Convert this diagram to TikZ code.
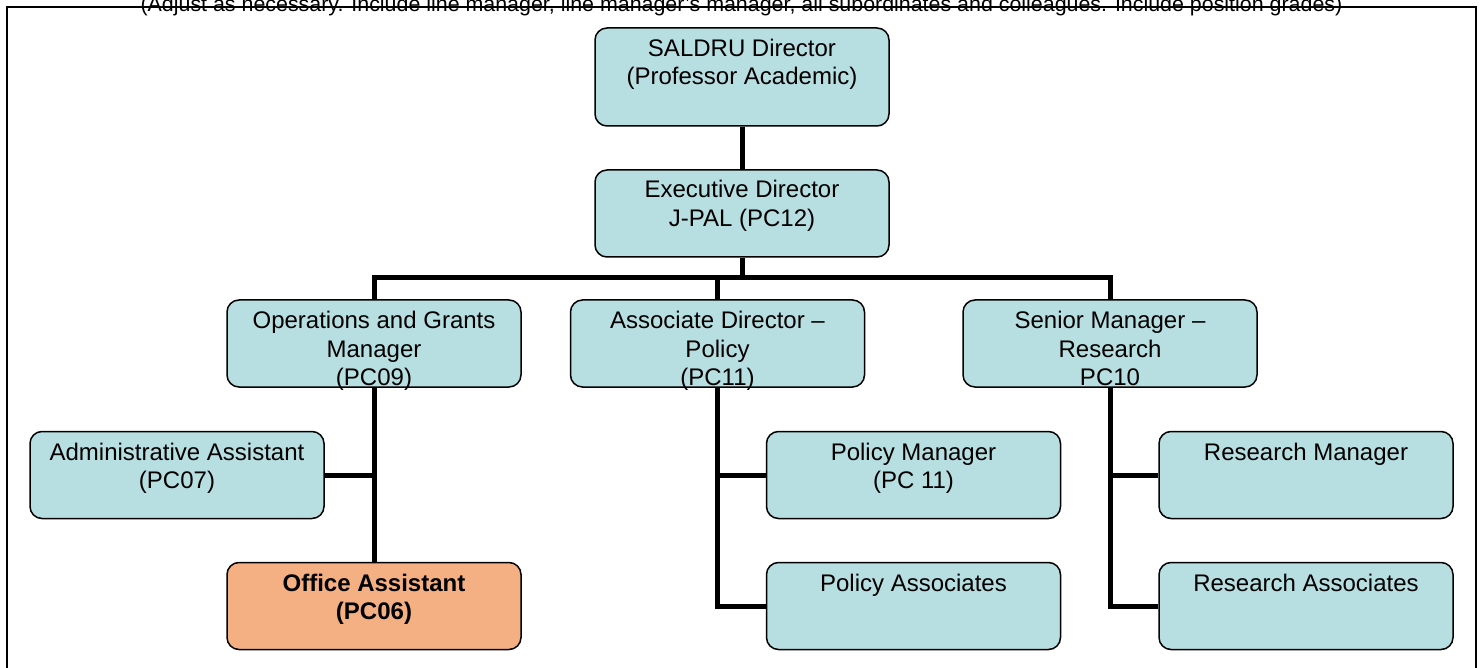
\documentclass[tikz,border=0pt]{standalone}
\usepackage{fontspec}
\setmainfont{Liberation Sans}
\definecolor{boxteal}{RGB}{183,222,224}
\definecolor{boxorange}{RGB}{244,176,131}
\tikzset{
  orgbox/.style={draw=black, line width=1.5pt, rounded corners=12pt, fill=boxteal,
    minimum width=294pt, minimum height=87pt, inner sep=0pt},
  hlbox/.style={orgbox, fill=boxorange},
  boxtext/.style={anchor=north, inner sep=0pt, align=center,
    font=\fontsize{24}{28.5}\selectfont},
  boldtext/.style={boxtext, font=\fontsize{24}{28.5}\selectfont\bfseries},
  link/.style={line width=5pt, line join=miter},
  frame/.style={line width=2pt}
}
\begin{document}
\begin{tikzpicture}[x=1pt, y=-1pt]
\useasboundingbox (0,0) rectangle (1483,668);
\fill[white] (0,0) rectangle (1483,668);
% header (partly cut off at top, as in the reference)
\node[anchor=base, inner sep=0pt, font=\fontsize{21.4}{25}\selectfont] (header) at (741.5,11.5)
  {(Adjust as necessary. Include line manager, line manager's manager, all subordinates and colleagues. Include position grades)};
% frame
\draw[frame] (7,700) -- (7,7) -- (1476,7) -- (1476,700);

% boxes
\node[orgbox, minimum height=98pt] (saldru) at (742,77) {};
\node[orgbox] (exec) at (742,213.5) {};
\node[orgbox] (ops) at (374,343.5) {};
\node[orgbox] (assoc) at (717.5,343.5) {};
\node[orgbox] (senior) at (1110,343.5) {};
\node[orgbox] (admin) at (177,475) {};
\node[hlbox] (office) at (374,606) {};
\node[orgbox] (pm) at (913.5,475) {};
\node[orgbox] (pa) at (913.5,606) {};
\node[orgbox] (rm) at (1306,475) {};
\node[orgbox] (ra) at (1306,606) {};

% texts
\node[boxtext] (saldrut) at (742,38.5) {SALDRU Director\\(Professor Academic)};
\node[boxtext] (exect) at (742,180) {Executive Director\\J-PAL (PC12)};
\node[boxtext] (opst) at (374,311) {Operations and Grants\\Manager\\(PC09)};
\node[boxtext] (assoct) at (717.5,311) {Associate Director –\\Policy\\(PC11)};
\node[boxtext] (seniort) at (1110,311) {Senior Manager –\\Research\\PC10};
\node[boxtext] (admint) at (177,442.5) {Administrative Assistant\\(PC07)};
\node[boldtext] (officet) at (374,573.5) {Office Assistant\\(PC06)};
\node[boxtext] (pmt) at (913.5,442.5) {Policy Manager\\(PC 11)};
\node[boxtext] (pat) at (913.5,573.5) {Policy Associates};
\node[boxtext] (rmt) at (1306,442.5) {Research Manager};
\node[boxtext] (rat) at (1306,573.5) {Research Associates};

% connectors
\coordinate (bus) at (742,278);
\draw[link] (saldru.south) -- (exec.north);
\draw[link] (exec.south) -- (bus);
\draw[link] (bus) -| (ops.north);
\draw[link] (bus) -| (assoc.north);
\draw[link] (bus) -| (senior.north);
\draw[link] (ops.south) -- (office.north);
\draw[link] (admin.east) -- (admin.east -| ops.south);
\draw[link] (assoc.south) |- (pm.west);
\draw[link] (assoc.south) |- (pa.west);
\draw[link] (senior.south) |- (rm.west);
\draw[link] (senior.south) |- (ra.west);
\end{tikzpicture}
\end{document}
